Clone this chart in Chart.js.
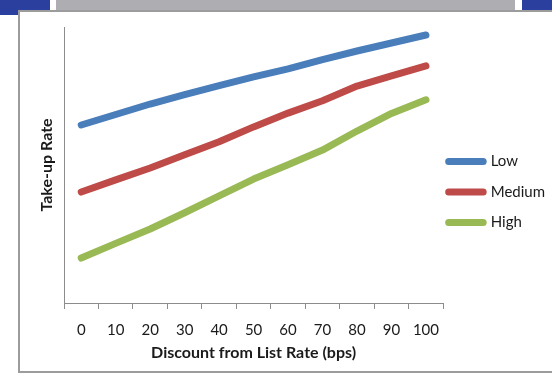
<!DOCTYPE html>
<html>
<head>
<meta charset="utf-8">
<script src="https://cdn.jsdelivr.net/npm/chart.js@4.4.1/dist/chart.umd.min.js"></script>
<style>
  html, body { margin: 0; padding: 0; background: #fff; width: 552px; height: 374px; overflow: hidden; }
  .tab { position: absolute; background: #2b3f9f; }
  #tabL { left: 0; top: 0; width: 50px; height: 15px; }
  #tabR { left: 522px; top: 0; width: 30px; height: 11px; }
  #bar { position: absolute; left: 56px; top: 0; width: 459px; height: 10px; background: #aeaeb2; }
  #frame { position: absolute; left: 18px; top: 10px; width: 600px; height: 363px; box-sizing: border-box;
           border: 2px solid #9c9c9c; background: #fff; }
  #wrap { position: absolute; left: 0; top: 0; width: 552px; height: 374px; }
</style>
</head>
<body>
<div class="tab" id="tabL"></div>
<div class="tab" id="tabR"></div>
<div id="bar"></div>
<div id="frame"></div>
<div id="wrap"><canvas id="c" width="552" height="374"></canvas></div>
<script>
// Discount steps (bps) along the x axis
const discounts = ['0', '10', '20', '30', '40', '50', '60', '70', '80', '90', '100'];

// Take-up rate by borrower sensitivity (relative scale, 0-100)
const lowRate    = [64.5, 68.3, 72.1, 75.5, 78.8, 81.9, 84.8, 88.2, 91.3, 94.2, 97.1];
const mediumRate = [40.2, 44.6, 48.9, 53.7, 58.4, 63.8, 68.8, 73.3, 78.6, 82.3, 85.9];
const highRate   = [16.3, 21.6, 26.8, 32.7, 38.8, 44.9, 50.1, 55.4, 62.3, 68.7, 73.6];

const seriesNames = ['Low', 'Medium', 'High'];
const seriesColors = ['#4a7ebb', '#be4b48', '#98b954'];

const axisColor = '#8c8c8c';
const textColor = '#1a1a1a';
const fontFamily = 'Lato, "Open Sans", sans-serif';

const makeSet = (name, values, color) => ({
  label: name,
  data: values,
  borderColor: color,
  backgroundColor: color,
  borderWidth: 7,
  borderCapStyle: 'round',
  borderJoinStyle: 'round',
  pointRadius: 0,
  pointHoverRadius: 0,
  tension: 0,
  fill: false
});

new Chart(document.getElementById('c'), {
  type: 'line',
  data: {
    labels: discounts,
    datasets: [
      makeSet(seriesNames[0], lowRate, seriesColors[0]),
      makeSet(seriesNames[1], mediumRate, seriesColors[1]),
      makeSet(seriesNames[2], highRate, seriesColors[2])
    ]
  },
  options: {
    responsive: false,
    animation: false,
    devicePixelRatio: 1,
    layout: { padding: { left: 30, top: 27, right: -3, bottom: 7 } },
    scales: {
      x: {
        type: 'category',
        offset: true,
        grid: { display: true, drawOnChartArea: false, drawTicks: true, tickLength: 6, offset: true, color: axisColor },
        border: { display: true, color: axisColor, width: 1 },
        ticks: { color: textColor, font: { family: fontFamily, size: 15 }, padding: 12, maxRotation: 0, autoSkip: false },
        title: {
          display: true,
          text: 'Discount from List Rate (bps)',
          color: textColor,
          font: { family: fontFamily, size: 16, weight: 'bold' },
          padding: { top: -7.6, bottom: 4.4 }
        }
      },
      y: {
        min: 0,
        max: 100,
        grid: { display: false, drawTicks: false },
        border: { display: true, color: axisColor, width: 1 },
        ticks: { display: false },
        title: {
          display: true,
          text: 'Take-up Rate',
          color: textColor,
          font: { family: fontFamily, size: 16, weight: 'bold' },
          padding: { top: 7.4, bottom: 7.4 }
        }
      }
    },
    plugins: {
      tooltip: { enabled: false },
      legend: {
        position: 'right',
        align: 'center',
        labels: {
          usePointStyle: true,
          pointStyle: 'line',
          pointStyleWidth: 34.5,
          padding: 5.5,
          color: textColor,
          font: { family: fontFamily, size: 15, lineHeight: 25 / 15 },
          generateLabels(chart) {
            // single-line arrays so the row height follows the font line height
            return Chart.defaults.plugins.legend.labels.generateLabels(chart)
              .map(item => Object.assign(item, { text: [item.text], lineCap: 'round', lineWidth: 7 }));
          }
        }
      }
    }
  }
});
</script>
</body>
</html>
